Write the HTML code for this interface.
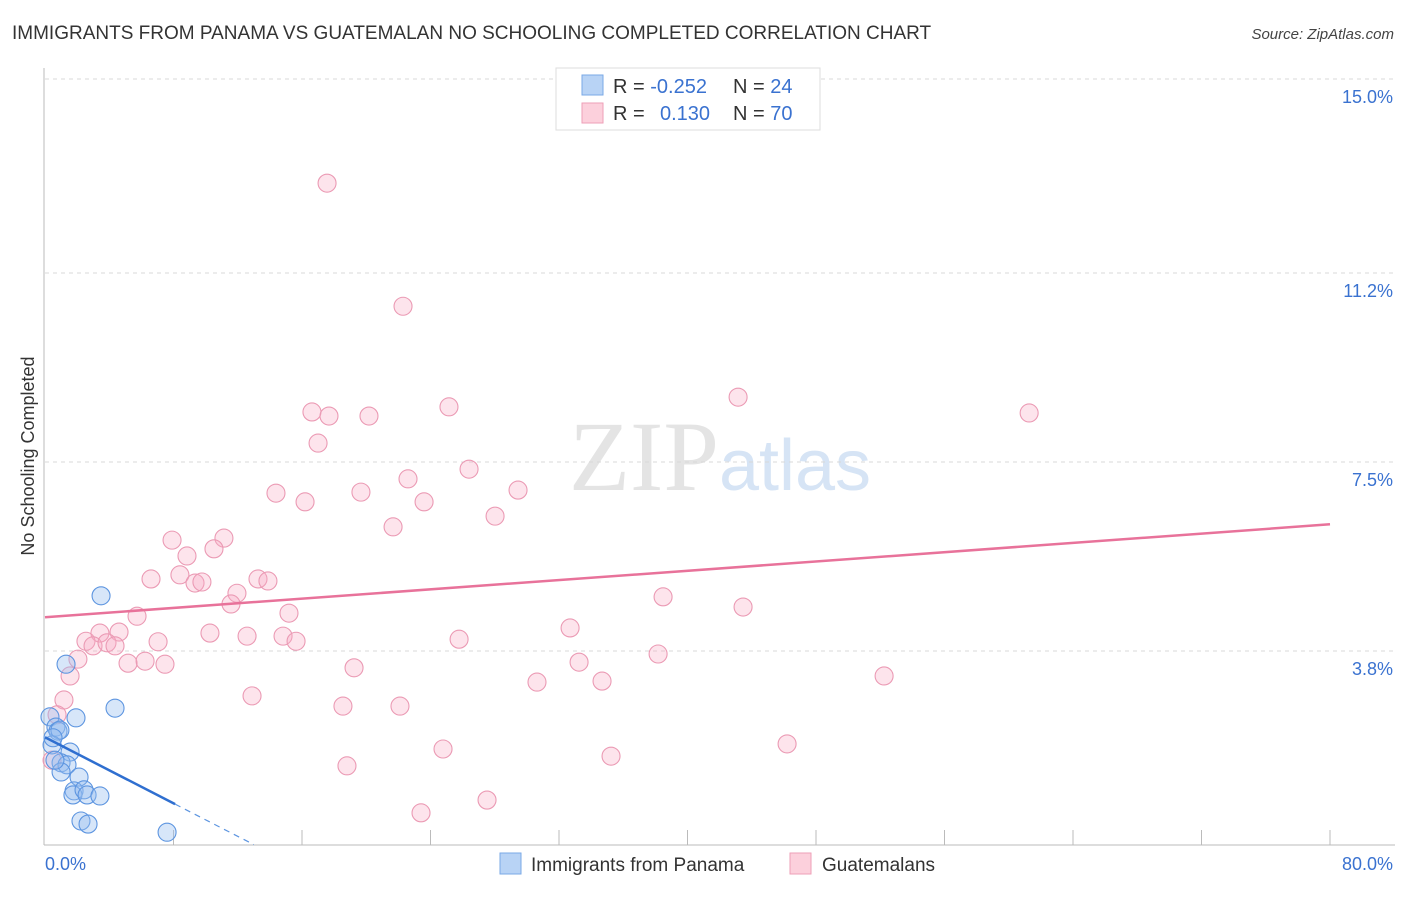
<!DOCTYPE html>
<html><head><meta charset="utf-8"><style>
body{margin:0;background:#fff;font-family:"Liberation Sans",sans-serif;}
</style></head><body>
<svg id="chart" width="1406" height="892" xmlns="http://www.w3.org/2000/svg" font-family="Liberation Sans, sans-serif">
<text x="12" y="39" font-size="19" fill="#333">IMMIGRANTS FROM PANAMA VS GUATEMALAN NO SCHOOLING COMPLETED CORRELATION CHART</text>
<text x="1394" y="39" font-size="15" fill="#444" text-anchor="end" font-style="italic">Source: ZipAtlas.com</text>
<text x="720" y="490" font-size="100" text-anchor="middle" fill="#e4e4e4" font-family="Liberation Serif, serif">ZIP<tspan fill="#d6e4f5" font-family="Liberation Sans, sans-serif" font-size="72">atlas</tspan></text>
<text transform="translate(34,456) rotate(-90)" font-size="18" fill="#333" text-anchor="middle">No Schooling Completed</text>
<g id="grid"></g><g id="axes"></g><g id="pts"></g><g id="trend"></g>
<g>
<rect x="556" y="68" width="264" height="62" fill="#fff" stroke="#ddd"/>
<rect x="582" y="75" width="21" height="20" fill="#b8d3f5" stroke="#7aa8e6"/>
<rect x="582" y="103" width="21" height="20" fill="#fcd0dc" stroke="#ee9fb7"/>
<text x="613" y="93" font-size="20" fill="#333">R = <tspan fill="#3a72d0">-0.252</tspan><tspan x="733">N = </tspan><tspan fill="#3a72d0">24</tspan></text>
<text x="613" y="120" font-size="20" fill="#333">R = <tspan x="660" fill="#3a72d0">0.130</tspan><tspan x="733">N = </tspan><tspan fill="#3a72d0">70</tspan></text>
</g>
<g>
<rect x="500" y="853" width="21" height="21" fill="#b8d3f5" stroke="#7aa8e6"/>
<text x="531" y="871" font-size="19" fill="#333">Immigrants from Panama</text>
<rect x="790" y="853" width="21" height="21" fill="#fcd0dc" stroke="#ee9fb7"/>
<text x="822" y="871" font-size="19" fill="#333">Guatemalans</text>
</g>
</svg>
<script>
const yTicks=[3.8,7.5,11.2,15.0];
const yTickLabels=["3.8%","7.5%","11.2%","15.0%"];
const xLabels=["0.0%","80.0%"];
const blueX=[3.49,1.31,4.36,0.31,1.93,0.68,0.81,0.93,0.44,1.56,1.0,1.37,1.0,2.12,1.81,1.74,2.43,2.62,3.42,2.24,2.68,7.6,0.5,0.62];
const blueY=[4.88,3.54,2.68,2.51,2.49,2.31,2.23,2.25,1.96,1.82,1.61,1.57,1.43,1.33,1.06,0.98,1.08,0.98,0.96,0.47,0.41,0.25,2.1,1.66];
const pinkX=[17.56,22.29,43.15,61.27,16.62,17.68,20.17,25.15,17.0,26.4,22.6,14.38,16.19,19.67,23.6,29.45,28.02,21.67,7.91,11.14,8.84,10.52,6.6,8.4,9.34,9.77,11.95,13.26,13.88,11.58,15.19,38.48,43.46,5.73,3.42,4.61,2.55,2.99,3.86,4.36,7.04,10.27,12.58,14.82,15.63,25.78,32.69,2.05,5.17,6.23,7.47,19.24,33.25,38.17,1.56,30.63,34.68,52.24,1.18,12.89,18.55,22.1,0.75,46.2,24.78,35.24,18.8,27.52,23.41,0.44];
const pinkY=[12.96,10.55,8.77,8.46,8.48,8.40,8.40,8.58,7.87,7.36,7.17,6.89,6.72,6.91,6.72,6.95,6.44,6.23,5.97,6.01,5.66,5.80,5.21,5.29,5.13,5.15,4.93,5.21,5.17,4.72,4.54,4.86,4.66,4.48,4.15,4.17,3.99,3.90,3.96,3.90,3.98,4.15,4.09,4.09,3.99,4.03,4.25,3.64,3.56,3.60,3.54,3.47,3.58,3.74,3.31,3.19,3.21,3.31,2.84,2.92,2.72,2.72,2.55,1.98,1.88,1.74,1.55,0.88,0.63,1.66];
const blueTrend=[2.11,-0.1617];
const pinkTrend=[4.46,0.02275];
const X=v=>45+v/80*1285, Y=v=>845-v/3.75*191.5;
const NS="http://www.w3.org/2000/svg";
function mk(p,t,a){const e=document.createElementNS(NS,t);for(const k in a)e.setAttribute(k,a[k]);document.getElementById(p).appendChild(e);return e;}
yTicks.forEach((t,i)=>{
 const g=mk('grid','line',{x1:45,x2:1395,y1:Y(t),y2:Y(t),stroke:'#d8d8d8','stroke-dasharray':'4,4'});
 
 
 const l=mk('grid','text',{x:1393,y:Y(t)+24,'font-size':18,fill:'#3a72d0','text-anchor':'end'});l.textContent=yTickLabels[i];
 
 
});
const ax=mk('axes','line',{x1:44,x2:44,y1:68,y2:845,stroke:'#bbb'});


const bx=mk('axes','line',{x1:44,x2:1395,y1:845,y2:845,stroke:'#bbb'});


for(let i=1;i<=10;i++){const t=mk('axes','line',{x1:X(i*8),x2:X(i*8),y1:830,y2:845,stroke:'#bbb'});
 
 }
[[0,'start',45],[80,'end',1393]].forEach((d,i)=>{const l=mk('axes','text',{x:d[2],y:870,'font-size':18,fill:'#3a72d0','text-anchor':d[1]});l.textContent=xLabels[i];
 
 });
pinkX.forEach((x,i)=>{const c=mk('pts','circle',{cx:X(x),cy:Y(pinkY[i]),r:9,fill:'rgba(248,170,195,0.32)',stroke:'#eb9ab4','stroke-width':1.1});
 
 });
blueX.forEach((x,i)=>{const c=mk('pts','circle',{cx:X(x),cy:Y(blueY[i]),r:9,fill:'rgba(150,190,240,0.38)',stroke:'#5d95e0','stroke-width':1.1});
 
 });
const pl=mk('trend','line',{x1:X(0),y1:Y(pinkTrend[0]),x2:X(80),y2:Y(pinkTrend[0]+80*pinkTrend[1]),stroke:'#e8729a','stroke-width':2.5});


const bEnd=blueTrend[0]+8.1*blueTrend[1];
const bl=mk('trend','line',{x1:X(0),y1:Y(blueTrend[0]),x2:X(8.1),y2:Y(bEnd),stroke:'#2f6fd0','stroke-width':2.5});


const bd=mk('trend','line',{x1:X(8.1),y1:Y(bEnd),x2:X(13),y2:Y(blueTrend[0]+13*blueTrend[1]),stroke:'#5d95e0','stroke-width':1.2,'stroke-dasharray':'6,5'});


</script>
</body></html>
